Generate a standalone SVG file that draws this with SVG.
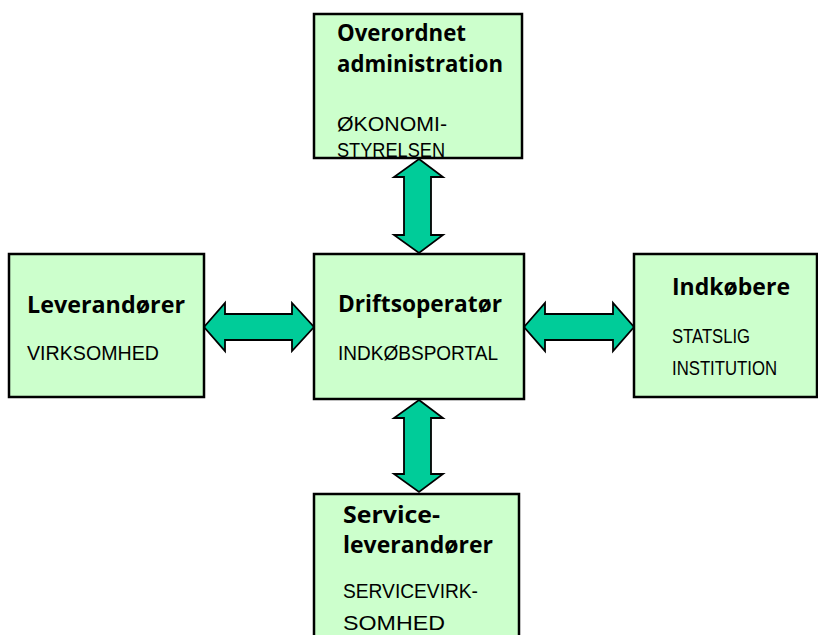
<svg xmlns="http://www.w3.org/2000/svg" width="818" height="635" viewBox="0 0 818 635">
<style>
.box{fill:#CCFFCC;stroke:#000;stroke-width:2.5}
.arr{fill:#00CC99;stroke:#000;stroke-width:1.8;stroke-linejoin:miter}
.t{font-family:"Open Sans","Noto Sans","Liberation Sans",sans-serif;font-weight:bold;font-size:23px;fill:#000}
.s{font-family:"Liberation Sans","DejaVu Sans",sans-serif;font-size:21px;fill:#000}
</style>
<rect width="818" height="635" fill="#fff"/>
<g id="connectors">
<polygon class="arr" points="419,159 443,177 431,177 431,235 443,235 419,253 394,235 404,235 404,177 394,177"/>
<polygon class="arr" points="419,400 443,418 431,418 431,474 443,474 419,492 394,474 404,474 404,418 394,418"/>
<polygon class="arr" points="204,327 225,303 225,314 292,314 292,303 314,327 292,351 292,340 225,340 225,351"/>
<polygon class="arr" points="524,327 545,303 545,314 613,314 613,303 634,327 613,351 613,340 545,340 545,351"/>
</g>
<g id="overordnet">
<rect class="box" x="314" y="14" width="208" height="144"/>
<text class="t" x="337" y="41" textLength="129" lengthAdjust="spacingAndGlyphs">Overordnet</text>
<text class="t" x="337" y="72" textLength="166" lengthAdjust="spacingAndGlyphs">administration</text>
<text class="s" x="337" y="131" textLength="110" lengthAdjust="spacingAndGlyphs">ØKONOMI-</text>
<text class="s" x="337" y="157" textLength="108" lengthAdjust="spacingAndGlyphs">STYRELSEN</text>
</g>
<g id="leverandorer">
<rect class="box" x="9" y="254" width="195" height="143"/>
<text class="t" x="27" y="313" textLength="158" lengthAdjust="spacingAndGlyphs">Leverandører</text>
<text class="s" x="27" y="360" textLength="132" lengthAdjust="spacingAndGlyphs">VIRKSOMHED</text>
</g>
<g id="driftsoperator">
<rect class="box" x="314" y="254" width="210" height="145"/>
<text class="t" x="338" y="312" textLength="164" lengthAdjust="spacingAndGlyphs">Driftsoperatør</text>
<text class="s" x="338" y="360" textLength="160" lengthAdjust="spacingAndGlyphs">INDKØBSPORTAL</text>
</g>
<g id="indkobere">
<rect class="box" x="634" y="254" width="183" height="143"/>
<text class="t" x="672" y="295" textLength="118" lengthAdjust="spacingAndGlyphs">Indkøbere</text>
<text class="s" x="672" y="343" textLength="78" lengthAdjust="spacingAndGlyphs">STATSLIG</text>
<text class="s" x="672" y="375" textLength="105" lengthAdjust="spacingAndGlyphs">INSTITUTION</text>
</g>
<g id="serviceleverandorer">
<rect class="box" x="314" y="494" width="205" height="150"/>
<text class="t" x="343" y="523" textLength="97" lengthAdjust="spacingAndGlyphs">Service-</text>
<text class="t" x="343" y="553" textLength="150" lengthAdjust="spacingAndGlyphs">leverandører</text>
<text class="s" x="343" y="598" textLength="135" lengthAdjust="spacingAndGlyphs">SERVICEVIRK-</text>
<text class="s" x="343" y="630" textLength="102" lengthAdjust="spacingAndGlyphs">SOMHED</text>
</g>
</svg>
